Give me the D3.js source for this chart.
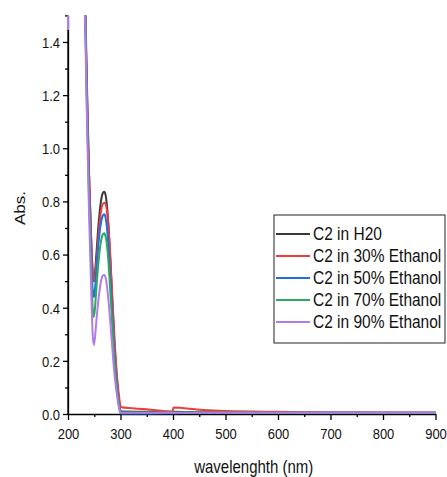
<!DOCTYPE html>
<html>
<head>
<meta charset="utf-8">
<script src="https://cdn.jsdelivr.net/npm/d3@7/dist/d3.min.js"></script>
<style>
  html, body { margin: 0; padding: 0; background: #fff; }
  svg { display: block; }
  text { font-family: "Liberation Sans", Arial, sans-serif; fill: #111; }
</style>
</head>
<body>
<svg id="chart" width="447" height="477"></svg>
<script>
// Wavelength grid (nm) shared by the absorbance spectra
const wlH2O  = [200, 228, 232, 236, 240, 244, 247, 249, 251, 254, 258, 262, 266, 269, 272, 276, 280, 284, 288, 292, 296, 300, 302, 350, 400, 450, 500, 600, 700, 800, 900];
const absH2O = [3.0, 2.2, 1.62, 1.22, 0.90, 0.66, 0.53, 0.50, 0.52, 0.60, 0.71, 0.79, 0.83, 0.836, 0.82, 0.74, 0.60, 0.44, 0.28, 0.16, 0.07, 0.012, 0.009, 0.008, 0.008, 0.007, 0.007, 0.006, 0.006, 0.005, 0.005];

const wlE30  = [200, 228, 232, 236, 240, 244, 247, 249, 251, 254, 258, 262, 266, 270, 273, 277, 281, 285, 289, 293, 297, 300, 302, 350, 399, 401, 450, 500, 600, 700, 800, 900];
const absE30 = [3.0, 2.3, 1.66, 1.25, 0.92, 0.67, 0.54, 0.50, 0.51, 0.57, 0.67, 0.75, 0.79, 0.795, 0.78, 0.71, 0.58, 0.42, 0.27, 0.15, 0.07, 0.03, 0.025, 0.018, 0.009, 0.024, 0.016, 0.011, 0.008, 0.006, 0.006, 0.006];

const wlE50  = [200, 228, 232, 236, 240, 244, 247, 249, 251, 254, 258, 262, 266, 269, 272, 276, 280, 284, 288, 292, 296, 300, 302, 350, 400, 450, 500, 600, 700, 800, 900];
const absE50 = [3.0, 2.2, 1.60, 1.19, 0.86, 0.61, 0.47, 0.44, 0.46, 0.54, 0.64, 0.71, 0.745, 0.752, 0.735, 0.66, 0.53, 0.38, 0.24, 0.13, 0.05, 0.003, 0.002, 0.002, 0.003, 0.004, 0.004, 0.004, 0.004, 0.004, 0.004];

const wlE70  = [200, 228, 232, 236, 240, 244, 247, 249, 251, 254, 258, 262, 266, 269, 272, 276, 280, 284, 288, 292, 296, 300, 302, 350, 400, 450, 500, 600, 700, 800, 900];
const absE70 = [3.0, 2.2, 1.58, 1.16, 0.82, 0.56, 0.40, 0.365, 0.39, 0.47, 0.57, 0.64, 0.675, 0.68, 0.665, 0.60, 0.48, 0.35, 0.22, 0.12, 0.05, 0.006, 0.006, 0.006, 0.006, 0.006, 0.006, 0.005, 0.005, 0.005, 0.005];

const wlE90  = [200, 202, 228, 232, 236, 240, 244, 247, 249, 251, 254, 258, 262, 266, 269, 272, 276, 280, 284, 288, 292, 296, 300, 302, 350, 400, 450, 500, 600, 700, 800, 900];
const absE90 = [1.445, 3.5, 2.4, 1.56, 1.12, 0.76, 0.48, 0.30, 0.26, 0.28, 0.35, 0.43, 0.49, 0.52, 0.523, 0.51, 0.45, 0.36, 0.26, 0.16, 0.09, 0.035, 0.005, 0.005, 0.005, 0.005, 0.005, 0.005, 0.005, 0.005, 0.005, 0.005];

const seriesNames  = ["C2 in H20", "C2 in 30% Ethanol", "C2 in 50% Ethanol", "C2 in 70% Ethanol", "C2 in 90% Ethanol"];
const seriesColors = ["#3a3a3a", "#ee3b3e", "#1f6fe3", "#2ea85f", "#b27ce8"];
const seriesWl     = [wlH2O, wlE30, wlE50, wlE70, wlE90];
const seriesAbs    = [absH2O, absE30, absE50, absE70, absE90];

const xMajor = [200, 300, 400, 500, 600, 700, 800, 900];
const yMajor = [0.0, 0.2, 0.4, 0.6, 0.8, 1.0, 1.2, 1.4];

const xTitle = "wavelenghth (nm)";
const yTitle = "Abs.";

// ---- layout ----
const svg = d3.select("#chart");
const plotL = 68, plotR = 435.5, plotT = 15.4, plotB = 414;
const stretch = 1.18; // tall, narrow lettering

const x = d3.scaleLinear().domain([200, 900]).range([plotL, plotR]);
const y = d3.scaleLinear().domain([0, 1.5]).range([plotB, plotT]);

svg.append("defs").append("clipPath").attr("id", "plotClip")
  .append("rect").attr("x", plotL - 1).attr("y", plotT).attr("width", plotR - plotL + 2).attr("height", plotB - plotT + 1);

// ---- axes ----
const xMinor = d3.range(250, 900, 100);
const yMinor = d3.range(0.1, 1.55, 0.2);

const xAxis = svg.append("g").attr("transform", `translate(0,${plotB})`);
xAxis.append("g").call(d3.axisBottom(x).tickValues(xMinor).tickSize(3).tickSizeOuter(0).tickFormat(""))
  .call(g => g.select(".domain").remove());
xAxis.append("g").call(d3.axisBottom(x).tickValues(xMajor).tickSize(6).tickSizeOuter(0).tickPadding(4).tickFormat(d3.format("d")));

const yAxis = svg.append("g").attr("transform", `translate(${plotL},0)`);
yAxis.append("g").call(d3.axisLeft(y).tickValues(yMinor).tickSize(3).tickSizeOuter(0).tickFormat(""))
  .call(g => g.select(".domain").remove());
yAxis.append("g").call(d3.axisLeft(y).tickValues(yMajor).tickSize(5).tickSizeOuter(0).tickPadding(3).tickFormat(d3.format(".1f")));

svg.selectAll(".domain").attr("stroke", "#000").attr("stroke-width", 1.3);
svg.selectAll(".tick line").attr("stroke", "#000").attr("stroke-width", 1.3);

// y spine runs up to the top of the plot
yAxis.append("line").attr("x1", 0).attr("x2", 0).attr("y1", plotT).attr("y2", plotB)
  .attr("stroke", "#000").attr("stroke-width", 1.3);

// tick labels: font + vertical stretch
xAxis.selectAll(".tick text")
  .attr("font-family", "Liberation Sans, Arial, sans-serif").attr("font-size", 13).attr("fill", "#111")
  .attr("y", 0).attr("dy", null)
  .attr("transform", `translate(0,13) scale(1,${stretch}) translate(0,10)`);
yAxis.selectAll(".tick text")
  .attr("font-family", "Liberation Sans, Arial, sans-serif").attr("font-size", 13).attr("fill", "#111")
  .attr("dy", null).attr("dominant-baseline", "central")
  .attr("transform", `scale(1,${stretch})`);

// ---- spectra (drawn over the axes) ----
const line = d3.line().x(d => x(d[0])).y(d => y(d[1])).curve(d3.curveMonotoneX);
const plot = svg.append("g").attr("clip-path", "url(#plotClip)");
seriesNames.forEach((name, i) => {
  const pts = seriesWl[i].map((w, k) => [w, seriesAbs[i][k]]);
  plot.append("path")
    .datum(pts)
    .attr("d", line)
    .attr("fill", "none")
    .attr("stroke", seriesColors[i])
    .attr("stroke-width", 2)
    .attr("stroke-linejoin", "round");
});

// ---- axis titles ----
svg.append("text")
  .attr("transform", `translate(${(plotL + plotR) / 2 + 2},473) scale(1,${stretch})`)
  .attr("text-anchor", "middle").attr("font-size", 15)
  .text(xTitle);
svg.append("text")
  .attr("transform", `translate(25,208) rotate(-90) scale(${stretch},1)`)
  .attr("text-anchor", "middle").attr("font-size", 14.5)
  .text(yTitle);

// ---- legend ----
const lg = svg.append("g").attr("transform", "translate(274,215)");
lg.append("rect").attr("width", 171).attr("height", 128)
  .attr("fill", "#fff").attr("stroke", "#222").attr("stroke-width", 1);
seriesNames.forEach((name, i) => {
  const ry = 19 + i * 22;
  lg.append("line").attr("x1", 2).attr("x2", 36).attr("y1", ry).attr("y2", ry)
    .attr("stroke", seriesColors[i]).attr("stroke-width", 2);
  lg.append("text")
    .attr("transform", `translate(39,${ry}) scale(1,${stretch})`)
    .attr("dominant-baseline", "central").attr("font-size", 15.5)
    .text(name);
});
</script>
</body>
</html>
